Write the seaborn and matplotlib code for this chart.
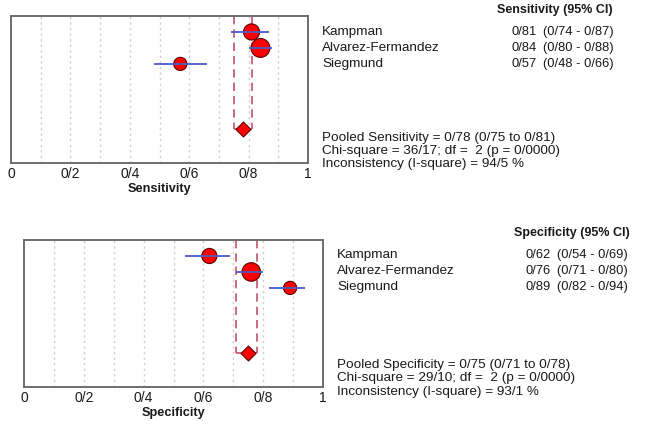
import seaborn as sns
import pandas as pd
import matplotlib.pyplot as plt
import numpy as np

studies = ['Kampman', 'Alvarez-Fermandez', 'Siegmund']

sens = [0.81, 0.84, 0.57]
sens_lo = [0.74, 0.80, 0.48]
sens_hi = [0.87, 0.88, 0.66]
sens_weight = [33.0, 40.0, 27.0]
sens_pooled = [0.78, 0.75, 0.81]
sens_stats = ['Pooled Sensitivity = 0/78 (0/75 to 0/81)',
              'Chi-square = 36/17; df =  2 (p = 0/0000)',
              'Inconsistency (I-square) = 94/5 %']

spec = [0.62, 0.76, 0.89]
spec_lo = [0.54, 0.71, 0.82]
spec_hi = [0.69, 0.80, 0.94]
spec_weight = [31.0, 39.0, 27.0]
spec_pooled = [0.75, 0.71, 0.78]
spec_stats = ['Pooled Specificity = 0/75 (0/71 to 0/78)',
              'Chi-square = 29/10; df =  2 (p = 0/0000)',
              'Inconsistency (I-square) = 93/1 %']

tick_vals = [0, 0.2, 0.4, 0.6, 0.8, 1.0]
tick_labels = ['0', '0/2', '0/4', '0/6', '0/8', '1']

sns.set_style('white')
plt.rcParams['font.family'] = ['Liberation Sans', 'DejaVu Sans']
plt.rcParams['text.color'] = '#1a1a1a'

W, H = 660, 425
fig = plt.figure(figsize=(6.6, 4.25), dpi=100)
FS = 9.3
FS_TXT = 9.7


def fmt(v):
    return '{:.2f}'.format(v).replace('.', '/')


def forest(rect, est, lo, hi, weight, pooled, xlabel):
    ax = fig.add_axes(rect)
    rows = np.arange(1, len(est) + 1)
    df = pd.DataFrame({'est': est, 'row': rows, 'w': weight})
    prow = 7.1

    for g in np.arange(0.1, 1.0, 0.1):
        ax.axvline(g, color='#cccccc', ls=(0, (1.5, 2.5)), lw=1.0, zorder=0)

    # pooled CI bracket
    ax.vlines([pooled[1], pooled[2]], 0, prow, color='#c8506a',
              ls=(0, (5, 3)), lw=1.2, zorder=1)
    ax.hlines(prow, pooled[1], pooled[2], color='#c8506a', lw=1.2, zorder=1)

    sns.scatterplot(data=df, x='est', y='row', size='w', sizes=(90, 185),
                    size_norm=(27, 40), color='#ff0000', edgecolor='#5a0000',
                    linewidth=0.8, legend=False, ax=ax, zorder=2)
    ax.hlines(rows, lo, hi, color='#4a5cc8', lw=1.3, zorder=3)
    sns.scatterplot(x=[pooled[0]], y=[prow], marker='D', s=58, color='#ff0000',
                    edgecolor='#5a0000', linewidth=0.8, legend=False, ax=ax,
                    zorder=4)

    ax.set_xlim(0, 1)
    ax.set_ylim(9.2, 0)
    ax.set_yticks([])
    ax.set_xticks(tick_vals)
    ax.set_xticklabels(tick_labels, fontsize=10, color='#1a1a1a')
    ax.tick_params(axis='x', length=0, pad=3)
    ax.set_ylabel('')
    ax.set_xlabel(xlabel, fontsize=9.2, fontweight='bold', labelpad=1,
                  color='#1a1a1a')
    for s in ax.spines.values():
        s.set_color('#6e6e6e')
        s.set_linewidth(1.4)
    return ax


def side_text(x_name, x_val, x_ci, y_head, y_rows, y_stats, head, est, lo, hi, stats, x_head):
    fig.text(x_head / W, 1 - y_head / H, head, fontsize=9.0, fontweight='bold',
             ha='center', va='center')
    for name, e, l, h, y in zip(studies, est, lo, hi, y_rows):
        fig.text(x_name / W, 1 - y / H, name, fontsize=FS_TXT, va='center')
        fig.text(x_val / W, 1 - y / H, fmt(e), fontsize=FS, va='center', ha='right')
        fig.text(x_ci / W, 1 - y / H, '({} - {})'.format(fmt(l), fmt(h)),
                 fontsize=FS, va='center')
    for s, y in zip(stats, y_stats):
        fig.text(x_name / W, 1 - y / H, s, fontsize=FS_TXT, va='center')


forest([11 / W, 1 - 163 / H, 297 / W, 147 / H], sens, sens_lo, sens_hi,
       sens_weight, sens_pooled, 'Sensitivity')
forest([24 / W, 1 - 387 / H, 299 / W, 147 / H], spec, spec_lo, spec_hi,
       spec_weight, spec_pooled, 'Specificity')

side_text(322, 537, 543, 10, [32, 48, 64], [138, 151, 164],
          'Sensitivity (95% CI)', sens, sens_lo, sens_hi, sens_stats, 555)
side_text(337, 551, 557, 233, [255, 271, 287], [365, 378.5, 392],
          'Specificity (95% CI)', spec, spec_lo, spec_hi, spec_stats, 572)

fig.savefig('out.png', dpi=100)
